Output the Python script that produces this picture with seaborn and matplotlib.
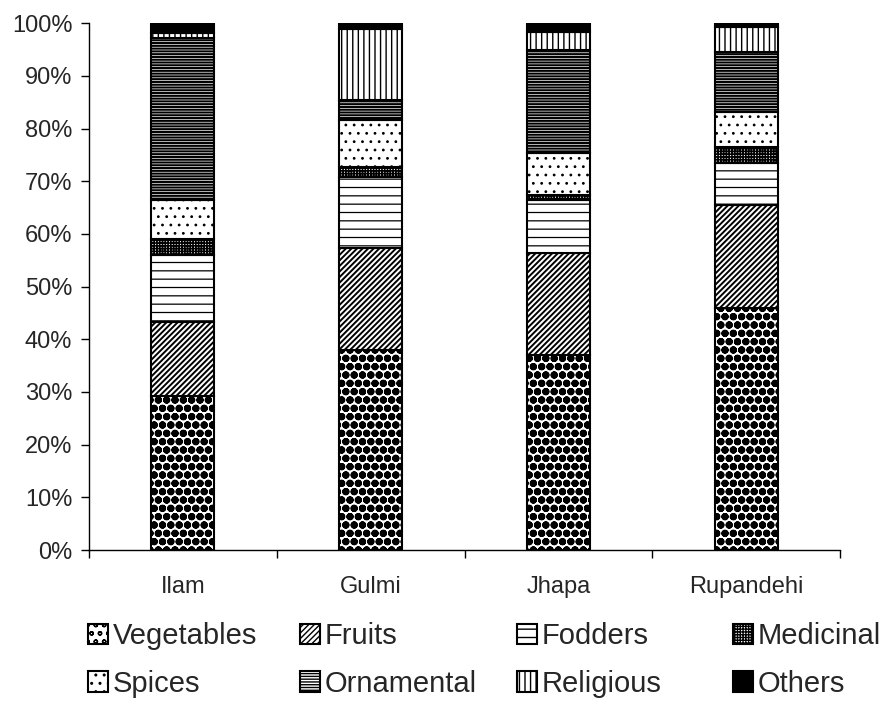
import numpy as np
import pandas as pd
import matplotlib
matplotlib.use('Agg')
import matplotlib.pyplot as plt
import seaborn as sns
from matplotlib.patches import Patch
from matplotlib.ticker import MultipleLocator, PercentFormatter, FixedLocator

# Share of each use category (%) per district
districts = ['Ilam', 'Gulmi', 'Jhapa', 'Rupandehi']
vegetables = [29.2, 38.0, 37.0, 45.9]
fruits = [14.1, 19.3, 19.4, 19.6]
fodders = [12.7, 13.5, 10.0, 7.9]
medicinal = [3.0, 1.9, 1.0, 3.1]
spices = [7.4, 8.9, 7.9, 6.6]
ornamental = [30.8, 3.8, 19.6, 11.4]
religious = [0.9, 13.5, 3.4, 4.7]
others = [1.9, 1.1, 1.7, 0.8]

categories = ['Vegetables', 'Fruits', 'Fodders', 'Medicinal',
              'Spices', 'Ornamental', 'Religious', 'Others']

df = pd.DataFrame({'District': districts, 'Vegetables': vegetables, 'Fruits': fruits,
                   'Fodders': fodders, 'Medicinal': medicinal, 'Spices': spices,
                   'Ornamental': ornamental, 'Religious': religious, 'Others': others})
long = df.melt(id_vars='District', var_name='Use', value_name='Share')

# black & white fill patterns (face colour, hatch, hatch line width)
styles = {
    'Vegetables': ('white', 'oo', 2.8),
    'Fruits': ('white', '//////', 1.4),
    'Fodders': ('white', '--', 0.9),
    'Medicinal': ('white', '++++++', 1.2),
    'Spices': ('white', '..', 0.8),
    'Ornamental': ('white', '------', 1.5),
    'Religious': ('white', '|||', 1.0),
    'Others': ('black', '', 1.0),
}

sns.set_style('ticks')
plt.rcParams['font.family'] = ['Liberation Sans', 'DejaVu Sans']

fig, ax = plt.subplots(figsize=(8.88, 7.01), dpi=100)
fig.subplots_adjust(left=0.1002, right=0.946, bottom=0.2154, top=0.967)

bottom = np.zeros(len(districts))
for cat in categories:
    sub = long[long['Use'] == cat].set_index('District').loc[districts].reset_index()
    face, hatch, hlw = styles[cat]
    with plt.rc_context({'hatch.linewidth': hlw}):
        sns.barplot(data=sub, x='District', y='Share', order=districts, bottom=bottom,
                    color=face, saturation=1, hatch=hatch, edgecolor='black',
                    linewidth=1.5, width=0.335, errorbar=None, ax=ax)
    bottom += sub['Share'].to_numpy()

ax.set_xlim(-0.5, 3.5)
ax.set_ylim(0, 100)
ax.yaxis.set_major_locator(MultipleLocator(10))
ax.yaxis.set_major_formatter(PercentFormatter(decimals=0))
ax.xaxis.set_minor_locator(FixedLocator(np.arange(-0.5, 4, 1)))
ax.tick_params(axis='x', which='major', length=0, pad=19, labelsize=17)
ax.tick_params(axis='x', which='minor', length=6, width=1, color='black')
ax.tick_params(axis='y', length=6, width=1, color='black', labelsize=17, pad=6)
ax.set_xlabel('')
ax.set_ylabel('')
sns.despine(ax=ax)
for s in ['left', 'bottom']:
    ax.spines[s].set_color('black')
    ax.spines[s].set_linewidth(1)

# legend laid out as 4 columns x 2 rows
columns = [('Vegetables', 'Spices'), ('Fruits', 'Ornamental'),
           ('Fodders', 'Religious'), ('Medicinal', 'Others')]
col_x = [88, 300, 517, 733]
for x, pair in zip(col_x, columns):
    handles = []
    for c in pair:
        with plt.rc_context({'hatch.linewidth': min(styles[c][2], 1.5)}):
            handles.append(Patch(facecolor=styles[c][0], edgecolor='black',
                                 hatch=styles[c][1], linewidth=1.5, label=c))
    fig.legend(handles=handles, loc='upper left', bbox_to_anchor=(x / 888, 1 - 622 / 701),
               frameon=False, fontsize=21, handlelength=0.7, handleheight=0.7,
               handletextpad=0.15, labelspacing=0.68, borderpad=0, borderaxespad=0)

fig.savefig('out.png', dpi=100)
